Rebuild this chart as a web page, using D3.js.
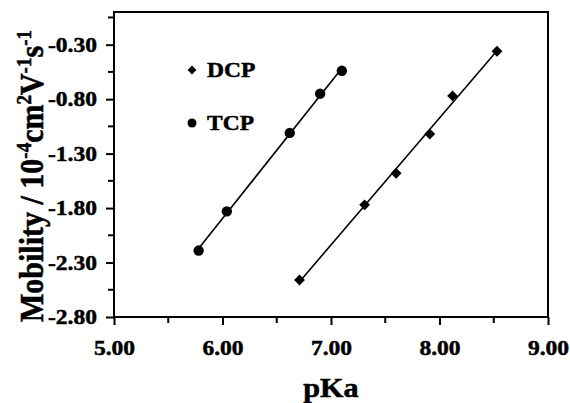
<!DOCTYPE html>
<html>
<head>
<meta charset="utf-8">
<script src="https://cdn.jsdelivr.net/npm/d3@7"></script>
<style>
  body { margin: 0; background: #fff; }
  text { font-family: "Liberation Serif", "Times New Roman", serif; font-weight: bold; fill: #000;
         stroke: #000; stroke-width: 0.5px; }
</style>
</head>
<body>
<div id="chart"></div>
<script>
// data
const tcpPKa = [5.78, 6.04, 6.62, 6.90, 7.10];
const tcpMobility = [-2.19, -1.83, -1.11, -0.75, -0.54];
const dcpPKa = [6.71, 7.31, 7.60, 7.91, 8.12, 8.53];
const dcpMobility = [-2.46, -1.77, -1.48, -1.12, -0.77, -0.36];

const xTicks = [5.0, 6.0, 7.0, 8.0, 9.0];
const yTicks = [-2.8, -2.3, -1.8, -1.3, -0.8, -0.3];

const width = 570, height = 403;
const margin = {left: 114, right: 22, top: 12, bottom: 86};
// the scanned lettering is a bit wider than the font
const sx = 1.12;

const svg = d3.select("#chart").append("svg")
  .attr("width", width)
  .attr("height", height);

const xScale = d3.scaleLinear().domain([5, 9])
  .range([margin.left, width - margin.right]);
const yScale = d3.scaleLinear().domain([-2.8, 0.0])
  .range([height - margin.bottom, margin.top]);

// minor ticks halfway between labelled ones
const xMinor = d3.range(5.5, 9, 1);
const yMinor = [-2.55, -2.05, -1.55, -1.05, -0.55, -0.05];

// frame
svg.append("rect")
  .attr("x", xScale(5)).attr("y", yScale(0))
  .attr("width", xScale(9) - xScale(5))
  .attr("height", yScale(-2.8) - yScale(0))
  .attr("fill", "none").attr("stroke", "#000").attr("stroke-width", 2);

// x axis
const xAxis = svg.append("g")
  .attr("transform", `translate(0, ${yScale(-2.8)})`)
  .call(d3.axisBottom(xScale).tickValues(xTicks).tickFormat(d3.format(".2f"))
    .tickSize(8).tickPadding(15));
xAxis.selectAll(".tick line").attr("stroke-width", 2);
xAxis.selectAll(".tick text").attr("font-size", 21).attr("font-family", null)
  .attr("transform", `scale(${sx},1)`);

svg.append("g")
  .selectAll("line").data(xMinor).join("line")
  .attr("x1", d => xScale(d)).attr("x2", d => xScale(d))
  .attr("y1", yScale(-2.8)).attr("y2", yScale(-2.8) + 6)
  .attr("stroke", "#000").attr("stroke-width", 2);

// y axis
const yAxis = svg.append("g")
  .attr("transform", `translate(${xScale(5)}, 0)`)
  .call(d3.axisLeft(yScale).tickValues(yTicks).tickFormat(d3.format(".2f"))
    .tickSize(8).tickPadding(9));
yAxis.selectAll(".tick line").attr("stroke-width", 2);
yAxis.selectAll(".tick text").attr("font-size", 21).attr("font-family", null)
  .attr("x", -17 / sx)
  .attr("transform", `scale(${sx},1)`)
  .text(d => d3.format(".2f")(d).replace("−", "-"));

svg.append("g")
  .selectAll("line").data(yMinor).join("line")
  .attr("x1", xScale(5) - 6).attr("x2", xScale(5))
  .attr("y1", d => yScale(d)).attr("y2", d => yScale(d))
  .attr("stroke", "#000").attr("stroke-width", 2);

svg.selectAll(".domain").attr("stroke", "none");

// least squares fit for each series
function fit(xs, ys) {
  const mx = d3.mean(xs), my = d3.mean(ys);
  const b = d3.sum(xs, (x, i) => (x - mx) * (ys[i] - my)) / d3.sum(xs, x => (x - mx) ** 2);
  const a = my - b * mx;
  const ext = d3.extent(xs);
  return ext.map(x => [x, a + b * x]);
}

const line = d3.line().x(d => xScale(d[0])).y(d => yScale(d[1]));

svg.append("path").datum(fit(tcpPKa, tcpMobility))
  .attr("d", line).attr("fill", "none").attr("stroke", "#000").attr("stroke-width", 1.6);
svg.append("path").datum(fit(dcpPKa, dcpMobility))
  .attr("d", line).attr("fill", "none").attr("stroke", "#000").attr("stroke-width", 1.6);

// markers
svg.append("g").selectAll("circle").data(tcpPKa).join("circle")
  .attr("cx", d => xScale(d))
  .attr("cy", (d, i) => yScale(tcpMobility[i]))
  .attr("r", 5.2).attr("fill", "#000");

const diamond = d3.symbol().type(d3.symbolDiamond2).size(75);
svg.append("g").selectAll("path").data(dcpPKa).join("path")
  .attr("d", diamond)
  .attr("transform", (d, i) => `translate(${xScale(d)}, ${yScale(dcpMobility[i])})`)
  .attr("fill", "#000");

// legend
const legend = svg.append("g");
legend.append("path").attr("d", d3.symbol().type(d3.symbolDiamond2).size(50))
  .attr("transform", "translate(192, 70)");
legend.append("text").attr("x", 207 / sx).attr("y", 77).attr("font-size", 21)
  .attr("transform", `scale(${sx},1)`).text("DCP");
legend.append("circle").attr("cx", 192).attr("cy", 123).attr("r", 4.5);
legend.append("text").attr("x", 207 / sx).attr("y", 130).attr("font-size", 21)
  .attr("transform", `scale(${sx},1)`).text("TCP");

// axis titles
svg.append("text")
  .attr("x", (xScale(5) + xScale(9)) / 2 / sx).attr("y", 397)
  .attr("transform", `scale(${sx},1)`)
  .attr("text-anchor", "middle").attr("font-size", 27).text("pKa");

const yTitle = svg.append("text")
  .attr("transform", `translate(43, 176) rotate(-90) scale(1,${sx})`)
  .attr("text-anchor", "middle").attr("font-size", 30);
yTitle.append("tspan").text("Mobility / 10");
yTitle.append("tspan").attr("dy", -11).attr("font-size", 19).text("-4");
yTitle.append("tspan").attr("dy", 11).text("cm");
yTitle.append("tspan").attr("dy", -11).attr("font-size", 19).text("2");
yTitle.append("tspan").attr("dy", 11).text("V");
yTitle.append("tspan").attr("dy", -11).attr("font-size", 19).text("-1");
yTitle.append("tspan").attr("dy", 11).text("s");
yTitle.append("tspan").attr("dy", -11).attr("font-size", 19).text("-1");
</script>
</body>
</html>
